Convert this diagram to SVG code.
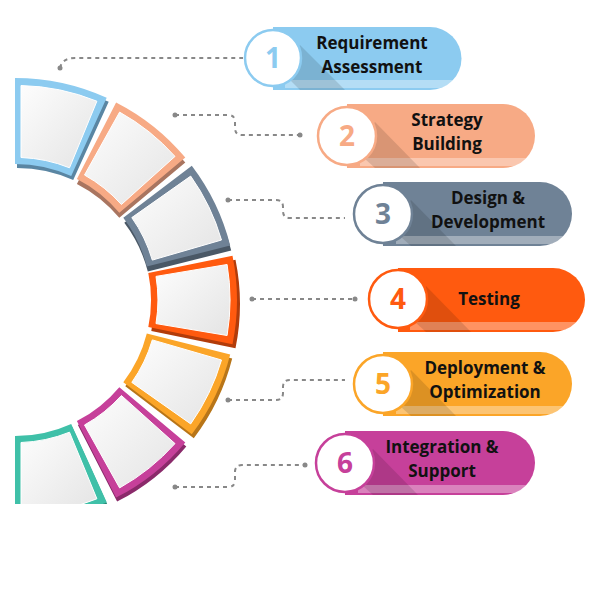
<svg xmlns="http://www.w3.org/2000/svg" width="600" height="600" viewBox="0 0 600 600">
<defs>
<linearGradient id="g" x1="0" y1="0" x2="1" y2="1"><stop offset="0" stop-color="#fdfdfd"/><stop offset="1" stop-color="#e4e4e4"/></linearGradient>
<clipPath id="cl"><rect x="15" y="0" width="600" height="504"/></clipPath>
</defs>
<style>
.lbl{font-family:"Open Sans","Liberation Sans",sans-serif;font-weight:bold;font-size:17px;fill:#111;text-anchor:middle}
.num{font-family:"Open Sans","Liberation Sans",sans-serif;font-weight:bold;font-size:28px;text-anchor:middle}
.con{fill:none;stroke:#888;stroke-width:2;stroke-dasharray:4 4}
.dot{fill:#888}
.inner{fill:url(#g);stroke:#fff;stroke-width:1}
.sh{fill:#000;opacity:0.12}
.band{fill:#fff;opacity:0.35}
</style>
<g id="connectors">
<path class="con" d="M60 68 Q62 58 75 58 L243 58"/><circle class="dot" cx="60" cy="68" r="2.5"/>
<path class="con" d="M175 115 L228 115 Q235 115 235 122 L235 128 Q235 135 242 135 L300 135"/><circle class="dot" cx="175" cy="115" r="2.5"/><circle class="dot" cx="300" cy="135" r="2.5"/>
<path class="con" d="M228 200 L276 200 Q283 200 283 207 L283 211 Q283 218 290 218 L345 218"/><circle class="dot" cx="228" cy="200" r="2.5"/>
<path class="con" d="M252 299 L355 299"/><circle class="dot" cx="252" cy="299" r="2.5"/><circle class="dot" cx="355" cy="299" r="2.5"/>
<path class="con" d="M228 400 L276 400 Q283 400 283 393 L283 387 Q283 380 290 380 L345 380"/><circle class="dot" cx="228" cy="400" r="2.5"/>
<path class="con" d="M175 487 L228 487 Q235 487 235 480 L235 472 Q235 465 242 465 L305 465"/><circle class="dot" cx="175" cy="487" r="2.5"/><circle class="dot" cx="305" cy="465" r="2.5"/>
</g>
<g id="arc" clip-path="url(#cl)">
<g id="s1">
<path d="M15 78 A222 222 0 0 1 106.7 97.8 L71.2 176.1 A136 136 0 0 0 15 164 Z" fill="#5a86a3" transform="translate(2,4)"/>
<path d="M15 78 A222 222 0 0 1 106.7 97.8 L71.2 176.1 A136 136 0 0 0 15 164 Z" fill="#8ccbf0"/>
<path d="M21 85.5 A215 215 0 0 1 96.9 101.2 L69.5 167.8 A143 143 0 0 0 21 157.5 Z" class="inner"/>
</g>
<g id="s2">
<path d="M116.1 102.4 A222 222 0 0 1 185.3 157.6 L119.3 212.8 A136 136 0 0 0 76.9 178.9 Z" fill="#a97560" transform="translate(0,5)"/>
<path d="M116.1 102.4 A222 222 0 0 1 185.3 157.6 L119.3 212.8 A136 136 0 0 0 76.9 178.9 Z" fill="#f7aa85"/>
<path d="M119.6 112.1 A215 215 0 0 1 175 156.4 L121.4 204.5 A143 143 0 0 0 84.5 175 Z" class="inner"/>
</g>
<g id="s3">
<path d="M191.8 165.8 A222 222 0 0 1 230.2 245.5 L146.8 266.6 A136 136 0 0 0 123.3 217.8 Z" fill="#4a5866" transform="translate(1,5)"/>
<path d="M191.8 165.8 A222 222 0 0 1 230.2 245.5 L146.8 266.6 A136 136 0 0 0 123.3 217.8 Z" fill="#6f8296"/>
<path d="M190.7 176.1 A215 215 0 0 1 221.5 240 L152.3 260.1 A143 143 0 0 0 131.8 217.6 Z" class="inner"/>
</g>
<g id="s4">
<path d="M232.5 255.7 A222 222 0 0 1 232.5 344.3 L148.3 327.1 A136 136 0 0 0 148.3 272.9 Z" fill="#b23c0a" transform="translate(3,4)"/>
<path d="M232.5 255.7 A222 222 0 0 1 232.5 344.3 L148.3 327.1 A136 136 0 0 0 148.3 272.9 Z" fill="#ff5a0f"/>
<path d="M227.1 264.5 A215 215 0 0 1 227.1 335.5 L156 323.6 A143 143 0 0 0 156 276.4 Z" class="inner"/>
</g>
<g id="s5">
<path d="M230.2 354.5 A222 222 0 0 1 191.8 434.2 L123.3 382.2 A136 136 0 0 0 146.8 333.4 Z" fill="#b87518" transform="translate(2,4)"/>
<path d="M230.2 354.5 A222 222 0 0 1 191.8 434.2 L123.3 382.2 A136 136 0 0 0 146.8 333.4 Z" fill="#fba528"/>
<path d="M221.5 360 A215 215 0 0 1 190.7 423.9 L131.8 382.4 A143 143 0 0 0 152.3 339.9 Z" class="inner"/>
</g>
<g id="s6">
<path d="M185.3 442.4 A222 222 0 0 1 116.1 497.6 L76.9 421.1 A136 136 0 0 0 119.3 387.2 Z" fill="#8a2a6a" transform="translate(1,4)"/>
<path d="M185.3 442.4 A222 222 0 0 1 116.1 497.6 L76.9 421.1 A136 136 0 0 0 119.3 387.2 Z" fill="#c6409a"/>
<path d="M175 443.6 A215 215 0 0 1 119.6 487.9 L84.5 425 A143 143 0 0 0 121.4 395.5 Z" class="inner"/>
</g>
<g id="s7">
<path d="M106.7 502.2 A222 222 0 0 1 15 522 L15 436 A136 136 0 0 0 71.2 423.9 Z" fill="#2a8a78" transform="translate(1,3)"/>
<path d="M106.7 502.2 A222 222 0 0 1 15 522 L15 436 A136 136 0 0 0 71.2 423.9 Z" fill="#3fc0a8"/>
<path d="M96.9 498.8 A215 215 0 0 1 21 514.5 L21 442.5 A143 143 0 0 0 69.5 432.2 Z" class="inner"/>
</g>
</g>
<g id="n1">
<path d="M273 27 H430 A31.5 31.5 0 0 1 430 90 H273 Z" fill="#8ccbf0"/>
<path d="M285 80 H455 A31 31 0 0 1 440 88 H285 Z" class="band"/>
<path d="M280 70 L300 45 L345 90 L300 90 Z" class="sh"/>
<circle cx="273" cy="58" r="28" fill="#fff" stroke="#8ccbf0" stroke-width="2.5"/>
<text class="num" x="273" y="68" fill="#8ccbf0">1</text>
<text class="lbl" x="372" y="49">Requirement</text><text class="lbl" x="372" y="73">Assessment</text>
</g>
<g id="n2">
<path d="M347 104 H503 A32 32 0 0 1 503 168 H347 Z" fill="#f7aa85"/>
<path d="M360 158 H528 A31 31 0 0 1 515 166 H360 Z" class="band"/>
<path d="M355 150 L375 122 L420 168 L375 168 Z" class="sh"/>
<circle cx="347" cy="136" r="29" fill="#fff" stroke="#f7aa85" stroke-width="2.5"/>
<text class="num" x="347" y="146" fill="#f7aa85">2</text>
<text class="lbl" x="447" y="126">Strategy</text><text class="lbl" x="447" y="150">Building</text>
</g>
<g id="n3">
<path d="M383 182 H540 A32 32 0 0 1 540 246 H383 Z" fill="#6f8296"/>
<path d="M396 236 H565 A31 31 0 0 1 552 244 H396 Z" class="band"/>
<path d="M391 228 L411 200 L456 246 L411 246 Z" class="sh"/>
<circle cx="383" cy="214" r="29" fill="#fff" stroke="#6f8296" stroke-width="2.5"/>
<text class="num" x="383" y="224" fill="#6f8296">3</text>
<text class="lbl" x="488" y="204">Design &amp;</text><text class="lbl" x="488" y="228">Development</text>
</g>
<g id="n4">
<path d="M398 268 H553 A32 32 0 0 1 553 332 H398 Z" fill="#ff5a0f"/>
<path d="M410 322 H578 A31 31 0 0 1 565 330 H410 Z" class="band"/>
<path d="M406 314 L426 286 L471 332 L426 332 Z" class="sh"/>
<circle cx="398" cy="299" r="29" fill="#fff" stroke="#ff5a0f" stroke-width="2.5"/>
<text class="num" x="398" y="309" fill="#ff5a0f">4</text>
<text class="lbl" x="489" y="305">Testing</text>
</g>
<g id="n5">
<path d="M383 352 H540 A32 32 0 0 1 540 416 H383 Z" fill="#fba528"/>
<path d="M396 406 H565 A31 31 0 0 1 552 414 H396 Z" class="band"/>
<path d="M391 398 L411 370 L456 416 L411 416 Z" class="sh"/>
<circle cx="383" cy="384" r="29" fill="#fff" stroke="#fba528" stroke-width="2.5"/>
<text class="num" x="383" y="394" fill="#fba528">5</text>
<text class="lbl" x="485" y="374">Deployment &amp;</text><text class="lbl" x="485" y="398">Optimization</text>
</g>
<g id="n6">
<path d="M345 431 H503 A32 32 0 0 1 503 495 H345 Z" fill="#c6409a"/>
<path d="M358 485 H528 A31 31 0 0 1 515 493 H358 Z" class="band"/>
<path d="M353 477 L373 449 L418 495 L373 495 Z" class="sh"/>
<circle cx="345" cy="463" r="29" fill="#fff" stroke="#c6409a" stroke-width="2.5"/>
<text class="num" x="345" y="473" fill="#c6409a">6</text>
<text class="lbl" x="442" y="453">Integration &amp;</text><text class="lbl" x="442" y="477">Support</text>
</g>
</svg>
